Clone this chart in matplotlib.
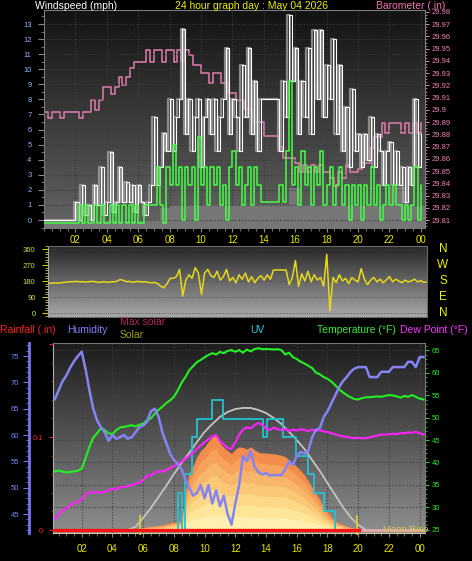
import numpy as np
import matplotlib
matplotlib.use('Agg')
import matplotlib.pyplot as plt
from matplotlib.colors import to_rgb
from matplotlib.ticker import MultipleLocator
from matplotlib.transforms import blended_transform_factory

plt.rcParams['font.family'] = ['Liberation Sans', 'DejaVu Sans']

# ---- top panel: wind speed (mph), samples every 12 min
wind_hours = np.round(np.arange(121) * 0.2, 1)
wind_gust = [0, 0, 0, 0, 0, 0, 0, 0, 0, 0,
             1.2, 0, 2.3, 0.3, 1.0, 0, 2.3, 1.0, 3.5, 0.3,
             1.2, 4.5, 0.5, 1.2, 3.5, 1.2, 2.5, 1.2, 2.3, 0.5,
             2.3, 1.2, 0.3, 1.2, 2.3, 6.8, 2.3, 3.5, 5.8, 4.6,
             8.0, 4.6, 6.8, 8.0, 12.7, 5.7, 8.0, 4.6, 6.8, 8.0,
             3.5, 6.8, 8.0, 5.7, 8.0, 4.6, 6.8, 8.0, 11.4, 5.7,
             8.0, 6.8, 4.6, 10.3, 6.8, 11.4, 5.7, 9.2, 4.6, 8.0,
             8.0, 8.0, 8.0, 8.0, 8.0, 4.6, 9.2, 6.8, 13.6, 9.2,
             11.4, 5.7, 9.2, 6.8, 11.4, 5.7, 12.6, 8.0, 12.6, 6.8,
             10.3, 8.0, 12.0, 5.7, 10.3, 4.6, 7.5, 3.5, 8.7, 4.6,
             5.7, 3.5, 5.7, 4.0, 6.8, 3.5, 5.7, 4.6, 2.3, 4.6,
             5.2, 2.3, 4.6, 2.3, 3.5, 1.2, 3.5, 2.3, 8.0, 3.5,
             5.7]
wind_avg = [-0.2] * 10 + [
    -0.2, 1.0, -0.2, 1.0, -0.2, -0.2, 1.0, -0.2, 1.0, -0.2,
    -0.2, 1.0, -0.2, 1.0, -0.2, 1.0, -0.2, 1.0, -0.2, 1.0,
    -0.2, -0.2, 1.0, 1.0, 1.0, 1.0, 3.5, 1.0, -0.2, 3.5,
    2.3, 5.0, 2.3, 3.5, 0.0, 3.5, 2.3, 3.5, 0.0, 5.5,
    2.3, 3.5, 1.0, 3.5, 2.3, 3.5, 1.0, 2.3, 0.0, 3.5,
    4.6, 2.3, 3.5, 1.0, 2.3, 3.5, 1.0, 3.5, 2.3, 1.2,
    1.2, 1.2, 1.2, 1.2, 1.2, 2.3, 1.2, 4.6, 9.2, 2.3,
    3.5, 1.0, 4.6, 2.3, 3.5, 1.0, 3.5, 2.3, 4.6, 1.0,
    2.3, 3.5, 1.0, 2.3, 3.5, 1.0, 2.3, 0.0, 2.3, 1.0,
    2.3, 0.0, 2.3, 1.0, 3.5, 1.0, 2.3, 0.0, 1.0, 2.3,
    1.0, 2.3, 1.0, 1.0, 0.0, 1.0, 0.0, 1.0, 3.5, 0.0,
    2.3]
wind_fill_hours = [0, 7.4, 8.0, 15.6, 16.3, 22.0, 23.1, 24.3]
wind_fill = [0, 0.8, 1.0, 2.1, 1.0, 2.2, 1.0, 1.0]

# barometer (in), every 15 min
baro_hours = np.arange(97) * 0.25
baro = [29.898, 29.893, 29.898, 29.898, 29.893, 29.898, 29.898, 29.898, 29.898, 29.893, 29.898, 29.898,
        29.908, 29.900, 29.908, 29.919, 29.919, 29.913, 29.919, 29.927, 29.920, 29.927, 29.934, 29.939,
        29.939, 29.939, 29.949, 29.939, 29.949, 29.949, 29.939, 29.949, 29.949, 29.939, 29.949, 29.940,
        29.949, 29.945, 29.937, 29.937, 29.930, 29.930, 29.922, 29.930, 29.930, 29.922, 29.922, 29.914,
        29.914, 29.908, 29.908, 29.901, 29.901, 29.890, 29.890, 29.890, 29.879, 29.879, 29.879, 29.879,
        29.870, 29.861, 29.861, 29.861, 29.857, 29.849, 29.855, 29.849, 29.855, 29.849, 29.855, 29.849,
        29.849, 29.844, 29.838, 29.849, 29.844, 29.855, 29.849, 29.849, 29.852, 29.857, 29.857, 29.869,
        29.878, 29.878, 29.889, 29.881, 29.889, 29.889, 29.889, 29.881, 29.889, 29.881, 29.889, 29.881,
        29.889]

# ---- wind direction (deg), every 12 min
dir_hours = np.round(np.arange(122) * 0.2, 1)
wind_dir = [168, 168, 170, 168, 170, 172, 174, 176, 176, 178,
            176, 176, 174, 176, 178, 176, 172, 174, 176, 172,
            174, 176, 178, 188, 184, 176, 178, 172, 176, 178,
            174, 176, 172, 170, 172, 166, 150, 142, 165, 195,
            195, 205, 245, 95, 185, 215, 195, 255, 225, 105,
            225, 245, 210, 200, 235, 185, 205, 245, 180, 200,
            170, 215, 190, 225, 175, 205, 170, 195, 210, 185,
            215, 190, 242, 242, 242, 242, 242, 160, 200, 295,
            150, 220, 180, 235, 175, 215, 185, 200, 150, 330,
            12, 200, 170, 215, 180, 195, 165, 200, 185, 175,
            250, 190, 160, 185, 200, 175, 190, 170, 185, 205,
            175, 190, 180, 170, 185, 175, 180, 190, 175, 182,
            172, 175]
compass_labels = ['N', 'W', 'S', 'E', 'N']
compass_deg = [360, 270, 180, 90, 0]

# ---- bottom panel, every 15 min
th_hours = np.arange(1, 98) * 0.25
humidity = [66.8, 68.5, 70.2, 71.3, 72.8, 74.0, 75.0, 75.8, 72.5, 68.5, 65.0, 62.8,
            61.5, 60.5, 58.9, 60.0, 59.3, 59.6, 60.0, 59.3, 59.6, 60.5, 61.5, 61.8,
            62.5, 64.5, 65.0, 63.5, 60.5, 58.5, 56.5, 55.3, 54.5, 53.5, 51.5, 50.0,
            48.5, 49.0, 50.5, 48.0, 50.5, 47.0, 49.5, 46.5, 48.5, 45.0, 43.0, 47.0,
            50.5, 56.0, 55.0, 57.0, 54.0, 53.0, 52.5, 52.8, 52.3, 52.4, 52.4, 52.4,
            53.5, 55.0, 54.3, 56.0, 56.8, 56.5, 57.0, 59.6, 61.0, 61.3, 63.4, 64.5,
            66.0, 67.5, 69.0, 70.2, 71.0, 72.0, 72.6, 72.9, 72.9, 72.9, 71.0, 71.0,
            71.0, 72.0, 72.0, 72.0, 72.9, 72.9, 72.9, 72.9, 73.9, 73.9, 72.9, 74.8,
            74.8]
temperature = [38.0, 38.2, 38.0, 37.8, 37.9, 38.0, 38.2, 38.6, 41.0, 43.5, 45.5, 46.5,
               47.6, 47.2, 46.5, 46.3, 47.2, 47.8, 47.9, 48.1, 48.3, 48.0, 48.4, 48.6,
               49.4, 49.8, 50.8, 51.7, 52.4, 53.2, 53.8, 54.6, 56.0, 57.7, 59.0, 60.5,
               61.4, 62.3, 62.8, 63.4, 63.9, 64.3, 64.0, 64.6, 64.3, 64.8, 65.0, 64.6,
               65.0, 64.4, 65.1, 64.7, 65.2, 65.4, 65.2, 65.2, 65.2, 65.1, 65.2, 65.0,
               64.0, 64.4, 63.4, 63.0, 62.4, 62.0, 61.5, 61.0, 60.0, 59.6, 59.0, 58.6,
               58.0, 57.2, 56.3, 55.6, 55.0, 54.5, 54.1, 54.0, 54.3, 54.5, 54.5, 54.6,
               54.7, 54.6, 54.8, 55.0, 54.9, 54.7, 54.4, 54.8, 54.6, 55.0, 54.6, 54.2,
               54.0]
dew_point = [27.5, 28.5, 29.3, 29.8, 30.5, 31.0, 31.3, 31.8, 33.0, 33.4, 33.3, 33.5,
             33.2, 33.5, 33.8, 34.2, 34.0, 34.6, 34.5, 34.8, 35.0, 35.2, 35.6, 36.0,
             37.2, 37.0, 37.8, 38.0, 38.0, 38.3, 38.8, 39.2, 39.6, 40.2, 40.8, 41.5,
             42.2, 43.0, 43.8, 44.5, 45.2, 45.8, 46.1, 44.8, 44.0, 43.2, 43.0, 44.5,
             46.2, 47.3, 47.8, 47.6, 48.3, 48.8, 48.4, 47.6, 47.2, 47.8, 47.4, 47.2,
             47.5, 47.0, 47.3, 47.1, 47.4, 47.2, 47.0, 47.3, 47.0, 47.2, 46.9, 46.8,
             46.5, 46.3, 46.0, 45.8, 45.7, 45.5, 45.4, 45.5, 45.4, 45.4, 45.6, 45.8,
             46.0, 46.2, 46.2, 46.3, 46.4, 46.3, 46.5, 46.5, 46.7, 46.6, 46.8, 46.5,
             46.2]
solar_hours = 5.25 + np.arange(61) * 0.25
solar = [0, 10, 13, 16, 20, 23, 26, 30, 33, 40, 46, 52,
         56, 60, 250, 374, 420, 480, 520, 545, 580, 610, 620, 570,
         540, 520, 500, 530, 545, 540, 530, 545, 525, 510, 505, 505,
         500, 500, 495, 490, 480, 460, 440, 415, 390, 360, 320, 280,
         240, 200, 150, 120, 85, 60, 45, 35, 25, 18, 12, 5,
         0]
max_solar_hours = 5.0 + np.arange(32) * 0.5
max_solar = [0, 20, 79, 144, 216, 289, 367, 439, 505, 577, 643, 695, 741, 774, 793, 800,
             800, 787, 767, 734, 695, 643, 590, 531, 459, 387, 308, 230, 151, 85, 33, 0]
uv_hours = [0, 8.3, 8.55, 8.7, 9.2, 9.5, 10.5, 11.2, 13.8, 14.05, 15.1, 15.95, 16.7, 17.1, 17.8, 18.5, 24.35]
uv = [0, 2, 0, 3, 5, 6, 7, 6, 5, 6, 5, 4, 3, 2, 1, 0, 0]
rain_hours = [0.13, 20.2, 24.35]
rain = [0, 0, 0]
marker_hours = [5.8, 19.9]

hour_ticks = list(range(2, 25, 2))
hour_labels = [f"{h % 24:02d}" for h in hour_ticks]

W, H = 472, 561
YELLOW = '#e6e600'
fig = plt.figure(figsize=(W / 100, H / 100), dpi=100, facecolor='black')


def px_rect(x0, y0, x1, y1):
    return [x0 / W, 1 - y1 / H, (x1 - x0) / W, (y1 - y0) / H]


def paint_gradient(ax, top, bottom):
    c0, c1 = np.array(to_rgb(top)), np.array(to_rgb(bottom))
    t = np.linspace(0, 1, 200)[:, None, None]
    ax.imshow(c0 + (c1 - c0) * t, extent=[0, 1, 0, 1], transform=ax.transAxes,
              aspect='auto', zorder=0)


def hide_spines(ax):
    for sp in ax.spines.values():
        sp.set_visible(False)


def hour_axis(ax, pad):
    ax.set_xticks(hour_ticks)
    ax.set_xticklabels(hour_labels)
    ax.xaxis.set_minor_locator(MultipleLocator(0.5))
    ax.tick_params(axis='x', which='both', color='#8a8a8a', labelcolor=YELLOW, labelsize=7, pad=pad)
    ax.tick_params(axis='x', which='major', length=3)
    ax.tick_params(axis='x', which='minor', length=2)


def ptext(x, y, s, color, size=7.5):
    fig.text(x / W, 1 - y / H, s, color=color, fontsize=size, ha='left', va='center')


# ---------------- top panel
ax_baro = fig.add_axes(px_rect(44, 10, 425, 228))
paint_gradient(ax_baro, '#121212', '#646464')
ax_wind = ax_baro.twinx()

ax_baro.step(baro_hours, baro, where='post', color='#d87aa6', lw=1.3, alpha=0.9)
ax_baro.set_xlim(0, 24.27)
ax_baro.set_ylim(29.8035, 29.9816)
baro_ticks = [round(29.81 + 0.01 * i, 2) for i in range(18)]
ax_baro.set_yticks(baro_ticks)
ax_baro.set_yticklabels([f"{v:.2f}".rstrip('0') for v in baro_ticks])
ax_baro.yaxis.set_minor_locator(MultipleLocator(0.0025))
ax_baro.tick_params(axis='y', which='both', color='#e07aa8', labelcolor='#f080b4', labelsize=5.5, pad=2)
ax_baro.tick_params(axis='y', which='major', length=3)
ax_baro.tick_params(axis='y', which='minor', length=1.5)
hour_axis(ax_baro, 2)
ax_baro.grid(axis='x', color='#3c3c3c', ls=':', lw=0.8)
for sp in ax_baro.spines.values():
    sp.set_color('#7c7c7c')

ax_wind.fill_between(wind_fill_hours, wind_fill, -1, step='post', color='#767676', lw=0)
ax_wind.step(wind_hours, wind_gust, where='mid', color='#a8a8a8', lw=1.6, alpha=0.75)
ax_wind.step(wind_hours, wind_gust, where='post', color='white', lw=0.8)
ax_wind.step(wind_hours, wind_avg, where='post', color='#44ff44', lw=1.1)
ax_wind.set_ylim(-0.53, 13.93)
ax_wind.set_yticks(range(14))
ax_wind.yaxis.set_minor_locator(MultipleLocator(0.5))
ax_wind.yaxis.set_ticks_position('left')
ax_wind.tick_params(axis='y', which='both', color='#8a8a8a', labelcolor='#8cb4ff', labelsize=5.5, pad=5)
ax_wind.tick_params(axis='y', which='major', length=4)
ax_wind.tick_params(axis='y', which='minor', length=2)
ax_wind.grid(axis='y', color='#3a3a3a', ls=':', lw=0.8)
hide_spines(ax_wind)

ptext(35, 6, 'Windspeed (mph)', 'white')
ptext(175, 6, '24 hour graph day : May 04 2026', '#f0f000')
ptext(376, 6, 'Barometer (.in)', '#f070b0')

# ---------------- wind direction panel
ax_dir = fig.add_axes(px_rect(48, 246, 427, 317))
paint_gradient(ax_dir, '#262626', '#a8a8a8')
ax_dir.plot(dir_hours, wind_dir, color='#e6d81c', lw=1.1)
ax_dir.set_xlim(0, 24.2)
ax_dir.set_ylim(-22.5, 377)
ax_dir.set_xticks([])
ax_dir.set_yticks([0, 90, 180, 270, 360])
ax_dir.yaxis.set_minor_locator(MultipleLocator(15))
ax_dir.tick_params(axis='y', which='both', color='#c8c820', labelcolor='#cce040', labelsize=5.5, pad=5)
ax_dir.tick_params(axis='y', which='major', length=4)
ax_dir.tick_params(axis='y', which='minor', length=2)
ax_dir.grid(axis='y', color='#4a4a4a', ls=':', lw=0.6)
for sp in ax_dir.spines.values():
    sp.set_color('#6a6a6a')
ax_dir.spines['left'].set_color('#a8a8a8')
tr = blended_transform_factory(ax_dir.transAxes, ax_dir.transData)
for lab, deg in zip(compass_labels, compass_deg):
    ax_dir.text(1.042, deg, lab, transform=tr, color='#f0f000', fontsize=8.5,
                ha='center', va='center', clip_on=False)

ptext(0, 330, 'Rainfall (.in)', '#ff2020')
ptext(67, 330, 'Humidity', '#8080ff')
ptext(120, 322, 'Max solar', '#b02858')
ptext(120, 335, 'Solar', '#a0a010')
ptext(250, 330, 'UV', '#30d0e0')
ptext(317, 330, 'Temperature (\u00b0F)', '#30ee30')
ptext(400, 330, 'Dew Point (\u00b0F)', '#ff30ff')

# ---------------- bottom panel
ax_t = fig.add_axes(px_rect(53, 343, 425, 533))
paint_gradient(ax_t, '#1c1c1c', '#8e8e8e')
ax_sol = ax_t.twinx()
ax_uv = ax_t.twinx()
ax_line = ax_t.twinx()
ax_hum = ax_t.twinx()
ax_rain = ax_t.twinx()

ax_t.set_xlim(0.13, 24.35)
ax_t.set_ylim(24.33, 66.56)
ax_t.set_yticks(range(25, 70, 5))
ax_t.yaxis.set_minor_locator(MultipleLocator(1))
ax_t.tick_params(axis='y', which='both', color='#20d020', labelcolor='#28e828', labelsize=5.5, pad=2)
ax_t.tick_params(axis='y', which='major', length=3)
ax_t.tick_params(axis='y', which='minor', length=1.5)
hour_axis(ax_t, 5)
ax_t.grid(color='#404040', ls=':', lw=0.8)
for sp in ax_t.spines.values():
    sp.set_color('#777777')
ax_t.spines['left'].set_color('#b0b0b0')
ax_t.spines['bottom'].set_color('#d0c8a0')

band_fracs = [1.0, 0.86, 0.72, 0.58, 0.44, 0.30, 0.16]
band_colors = ['#f48c4c', '#f6a25c', '#f8b66a', '#fbc878', '#fdd888', '#fee698', '#fff0b0']
sol = np.array(solar)
for frac, col in zip(band_fracs, band_colors):
    ax_sol.fill_between(solar_hours, sol * frac, 0, color=col, lw=0)
ax_sol.plot(max_solar_hours, max_solar, color='#c4c4c4', lw=1.3)
ax_sol.set_ylim(-20, 1226)
ax_sol.set_axis_off()

ax_uv.step(uv_hours, uv, where='post', color='#20c4d4', lw=1.3)
ax_uv.set_ylim(-0.162, 10.1)
ax_uv.set_axis_off()

ax_line.plot(th_hours, temperature, color='#22f022', lw=1.5)
ax_line.plot(th_hours, dew_point, color='#ff22ff', lw=1.5)
ax_line.vlines(marker_hours, 23.9, 28.4, color='#e0d030', lw=1.2, clip_on=False)
ax_line.set_ylim(24.33, 66.56)
ax_line.set_axis_off()

ax_hum.plot(th_hours, humidity, color='#8484f4', lw=1.8)
ax_hum.set_ylim(41.41, 77.47)
ax_hum.yaxis.set_ticks_position('left')
ax_hum.set_yticks(range(45, 80, 5))
ax_hum.yaxis.set_minor_locator(MultipleLocator(1))
ax_hum.tick_params(axis='y', which='both', color='#7474f0', labelcolor='#6c8cff', labelsize=5.5, pad=3)
ax_hum.tick_params(axis='y', which='major', length=4)
ax_hum.tick_params(axis='y', which='minor', length=2)
hide_spines(ax_hum)
ax_hum.spines['left'].set_visible(True)
ax_hum.spines['left'].set_position(('outward', 17.3))
ax_hum.spines['left'].set_color('#7474f0')
ax_hum.spines['left'].set_linewidth(2)

ax_rain.plot(rain_hours[:2], rain[:2], color='#ff1010', lw=2.4, solid_capstyle='butt')
ax_rain.plot(rain_hours[1:], rain[1:], color='#e8a8a8', lw=2.0, solid_capstyle='butt')
ax_rain.set_ylim(-0.0032, 0.2011)
ax_rain.yaxis.set_ticks_position('left')
ax_rain.set_yticks([0, 0.1, 0.2])
ax_rain.set_yticklabels(['0', '0.1', ''])
ax_rain.yaxis.set_minor_locator(MultipleLocator(0.02))
ax_rain.tick_params(axis='y', which='both', color='#e02020', labelcolor='#ff2020', labelsize=5.5, pad=4)
ax_rain.tick_params(axis='y', which='major', length=3)
ax_rain.tick_params(axis='y', which='minor', length=1.5)
hide_spines(ax_rain)

# twinx moves the base ticks to the left, so put them back on the right
ax_t.yaxis.tick_right()
ax_baro.yaxis.tick_right()

ptext(383, 529, 'Moon Rise', '#d4c44c', size=6.8)

fig.savefig('out.png', dpi=100, facecolor='black')
